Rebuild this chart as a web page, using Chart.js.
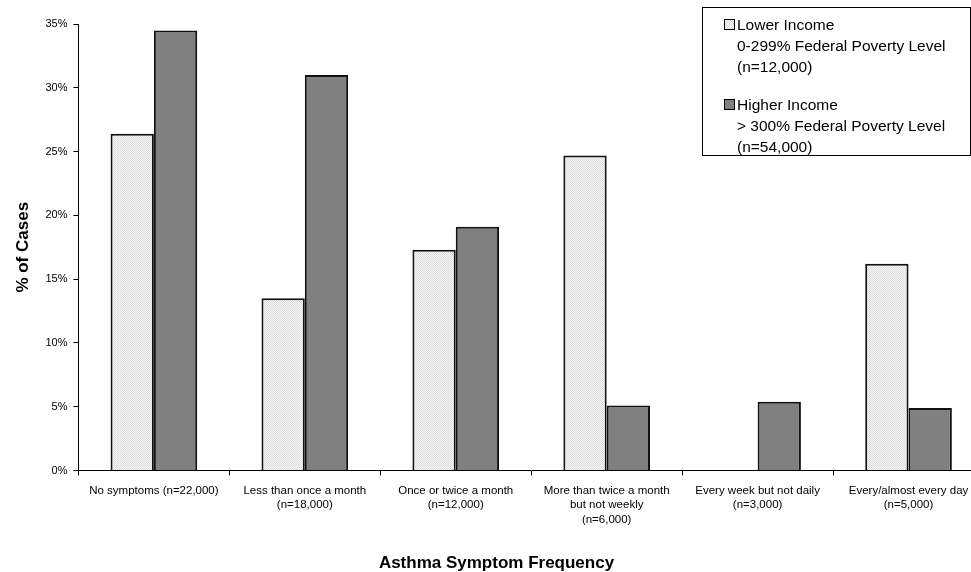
<!DOCTYPE html>
<html>
<head>
<meta charset="utf-8">
<script src="https://cdn.jsdelivr.net/npm/chart.js@4/dist/chart.umd.min.js"></script>
<style>
  html, body { margin: 0; padding: 0; background: #fff; overflow: hidden; }
  #wrap { width: 990px; height: 572px; }
</style>
</head>
<body>
<div id="wrap"><canvas id="chart" width="990" height="572"></canvas></div>
<script>
// data
const categories = [
    ['No symptoms (n=22,000)'],
    ['Less than once a month', '(n=18,000)'],
    ['Once or twice a month', '(n=12,000)'],
    ['More than twice a month', 'but not weekly', '(n=6,000)'],
    ['Every week but not daily', '(n=3,000)'],
    ['Every/almost every day', '(n=5,000)']
];
const lowerIncome = [26.4, 13.5, 17.3, 24.7, 0, 16.2];
const higherIncome = [34.5, 31.0, 19.1, 5.1, 5.4, 4.9];
const lowerLabel = ['Lower Income', '0-299% Federal Poverty Level', '(n=12,000)'];
const higherLabel = ['Higher Income', '> 300% Federal Poverty Level', '(n=54,000)'];
const yTicks = [0, 5, 10, 15, 20, 25, 30, 35];

const FONT = "'Liberation Sans', Arial, sans-serif";
const ctx = document.getElementById('chart').getContext('2d');

// light dotted fill like the old excel pattern
function dotPattern() {
    const c = document.createElement('canvas');
    c.width = 2; c.height = 2;
    const p = c.getContext('2d');
    p.fillStyle = '#f8f8f8';
    p.fillRect(0, 0, 2, 2);
    p.fillStyle = '#dadada';
    p.fillRect(0, 0, 1, 1);
    p.fillRect(1, 1, 1, 1);
    return ctx.createPattern(c, 'repeat');
}
const lightFill = dotPattern();

// boxed legend with multi-line labels, top right
const boxLegend = {
    id: 'boxLegend',
    afterDraw(chart) {
        const c = chart.ctx;
        const left = 702, top = 7, right = 970, bottom = 155;
        c.save();
        c.strokeStyle = '#000';
        c.lineWidth = 1;
        c.strokeRect(left + 0.5, top + 0.5, right - left, bottom - top);
        c.font = '15.5px ' + FONT;
        c.textBaseline = 'middle';
        const items = [
            { ds: chart.data.datasets[0], y: 25 },
            { ds: chart.data.datasets[1], y: 105 }
        ];
        items.forEach(function (it) {
            c.fillStyle = it.ds.backgroundColor;
            c.fillRect(724, it.y - 6, 11, 11);
            c.strokeStyle = '#000';
            c.strokeRect(724.5, it.y - 5.5, 10, 10);
            c.fillStyle = '#000';
            it.ds.label.forEach(function (line, i) {
                c.fillText(line, 737, it.y + 1 + i * 21);
            });
        });
        c.restore();
    }
};

new Chart(ctx, {
    type: 'bar',
    data: {
        labels: categories,
        datasets: [{
            label: lowerLabel,
            data: lowerIncome,
            backgroundColor: lightFill,
            borderColor: '#111',
            borderWidth: 2,
            categoryPercentage: 0.574,
            barPercentage: 1.0
        }, {
            label: higherLabel,
            data: higherIncome,
            backgroundColor: '#808080',
            borderColor: '#111',
            borderWidth: 2,
            categoryPercentage: 0.574,
            barPercentage: 1.0
        }]
    },
    options: {
        responsive: false,
        animation: false,
        layout: {
            padding: { top: 24, right: 6, left: 9, bottom: 0 }
        },
        plugins: {
            legend: { display: false },
            tooltip: { enabled: false },
            title: {
                display: true,
                position: 'bottom',
                text: 'Asthma Symptom Frequency',
                color: '#000',
                font: { family: FONT, size: 17, weight: 'bold', lineHeight: 1.0 },
                padding: { top: 20, bottom: 0 }
            }
        },
        scales: {
            x: {
                grid: {
                    offset: true,
                    drawOnChartArea: false,
                    drawTicks: true,
                    tickLength: 5,
                    color: '#000'
                },
                border: { color: '#000', width: 1 },
                ticks: {
                    color: '#000',
                    font: { family: FONT, size: 11.5, lineHeight: 1.26 },
                    maxRotation: 0,
                    autoSkip: false,
                    padding: 8
                }
            },
            y: {
                min: 0,
                max: 35,
                afterBuildTicks: function (axis) {
                    axis.ticks = yTicks.map(function (v) { return { value: v }; });
                },
                grid: {
                    drawOnChartArea: false,
                    drawTicks: true,
                    tickLength: 5,
                    color: '#000'
                },
                border: { color: '#000', width: 1 },
                ticks: {
                    color: '#000',
                    font: { family: FONT, size: 11 },
                    padding: 6,
                    callback: function (v) { return v + '%'; }
                },
                title: {
                    display: true,
                    text: '% of Cases',
                    color: '#000',
                    font: { family: FONT, size: 17, weight: 'bold' },
                    padding: { top: 4, bottom: 6 }
                }
            }
        }
    },
    plugins: [boxLegend]
});
</script>
</body>
</html>
